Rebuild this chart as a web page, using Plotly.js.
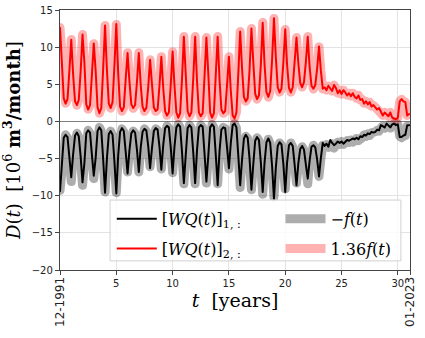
<!DOCTYPE html>
<html>
<head>
<meta charset="utf-8">
<script src="https://cdn.plot.ly/plotly-3.0.1.min.js"></script>
<style>
  html, body { margin: 0; padding: 0; background: #fff; }
  #plot { width: 425px; height: 338px; }
  #plot .scatterlayer path.js-line { stroke-linejoin: round !important; stroke-linecap: round !important; }
</style>
</head>
<body>
<div id="plot"></div>
<script>
// samples every two months, starting 12-1991 (t = 0)
var stepsPerYear = 6;

// f(t) (one row per year)
var fVals = [
  9.3, 5.2, 2.3, 1.8, 2.2, 5.0,
  8.1, 4.6, 2.0, 1.6, 2.1, 4.9,
  8.6, 5.8, 1.7, 1.2, 1.6, 4.6,
  7.7, 5.0, 1.4, 0.8, 1.3, 5.2,
  9.5, 5.1, 1.8, 1.3, 1.9, 5.5,
  9.6, 4.8, 1.5, 1.0, 1.4, 4.2,
  6.8, 4.0, 1.7, 1.3, 1.6, 3.9,
  6.8, 3.6, 1.5, 1.0, 1.3, 3.4,
  6.1, 3.7, 1.4, 1.0, 1.2, 3.5,
  6.4, 3.3, 1.0, 0.6, 0.9, 3.6,
  6.9, 3.5, 0.9, 0.4, 0.8, 4.2,
  8.4, 4.6, 1.0, 0.5, 0.9, 4.3,
  8.4, 4.0, 0.9, 0.5, 0.8, 4.4,
  8.3, 4.8, 0.9, 0.4, 0.8, 4.6,
  8.4, 4.1, 1.2, 0.8, 1.0, 3.6,
  6.4, 3.0, 0.6, 0.3, 0.9, 4.7,
  8.9, 5.2, 2.4, 2.0, 2.3, 5.1,
  9.2, 5.8, 2.7, 2.2, 2.6, 5.6,
  9.8, 5.6, 2.9, 2.4, 3.0, 6.1,
  10.2, 6.3, 3.4, 2.9, 3.2, 5.8,
  9.1, 5.6, 3.3, 2.9, 3.4, 5.9,
  8.3, 5.7, 3.8, 3.4, 3.9, 5.9,
  8.4, 5.4, 3.5, 3.2, 3.6, 5.2,
  7.4, 5.0, 3.2, 3.4, 3.1, 3.5,
  3.2, 3.0, 3.6, 3.3, 2.8, 3.1,
  2.7, 3.1, 2.9, 2.6, 2.8, 2.5,
  2.8, 2.4, 2.3, 2.6, 2.1, 2.2,
  1.8, 2.0, 1.7, 1.9, 1.5, 1.6,
  1.4, 1.2, 1.3, 0.9, 0.6, 0.9,
  0.7, 0.5, 0.9, 0.4, 0.3, 0.2,
  0.4, 2.0, 2.2, 2.0, 1.9, 0.6,
  0.7
];

// [WQ(t)]_{1,:}  (black)
var wq1Vals = [
  -9.4, -5.0, -2.2, -1.8, -2.1, -4.8,
  -7.5, -4.4, -1.9, -1.5, -2.0, -4.7,
  -8.2, -5.6, -1.6, -1.2, -1.5, -4.5,
  -7.3, -4.9, -1.3, -0.8, -1.2, -5.1,
  -9.6, -5.0, -1.7, -1.3, -1.8, -5.4,
  -9.7, -4.6, -1.4, -0.9, -1.3, -4.1,
  -7.0, -3.9, -1.6, -1.2, -1.5, -3.8,
  -6.8, -3.5, -1.4, -1.0, -1.2, -3.3,
  -6.3, -3.6, -1.3, -0.9, -1.1, -3.4,
  -6.5, -3.2, -0.9, -0.6, -0.8, -3.5,
  -7.0, -3.4, -0.8, -0.4, -0.7, -4.1,
  -8.3, -4.5, -0.9, -0.5, -0.8, -4.2,
  -8.3, -3.9, -0.8, -0.5, -0.7, -4.3,
  -8.1, -4.7, -0.8, -0.4, -0.7, -4.5,
  -8.6, -4.0, -1.1, -0.8, -0.9, -3.5,
  -6.3, -2.9, -0.5, -0.3, -0.8, -4.6,
  -8.6, -5.1, -2.3, -1.8, -2.2, -5.0,
  -9.2, -5.7, -2.6, -2.1, -2.5, -5.5,
  -9.5, -5.5, -2.8, -2.3, -2.9, -6.0,
  -10.4, -6.2, -3.3, -2.8, -3.1, -5.7,
  -9.5, -5.5, -3.2, -2.9, -3.3, -5.8,
  -8.6, -5.6, -3.7, -3.3, -3.8, -5.8,
  -7.7, -5.3, -3.4, -3.2, -3.5, -5.1,
  -7.4, -4.9, -2.9, -3.3, -3.0, -3.4,
  -2.5, -2.9, -3.2, -3.0, -2.7, -2.9,
  -2.7, -3.0, -2.8, -2.5, -2.6, -2.4,
  -2.3, -2.4, -2.2, -2.4, -2.0, -2.1,
  -1.8, -1.9, -1.6, -1.7, -1.4, -1.5,
  -1.4, -1.1, -1.2, -0.5, -0.6, -0.8,
  -0.3, -0.5, -0.8, -0.4, -0.3, -0.5,
  -0.4, -2.1, -2.1, -1.9, -1.8, -0.5,
  -0.5
];

// [WQ(t)]_{2,:}  (red)
var wq2Vals = [
  12.6, 7.1, 3.1, 2.4, 3.0, 6.8,
  11.0, 6.3, 2.7, 2.2, 2.9, 6.7,
  11.7, 7.9, 2.3, 1.6, 2.2, 6.3,
  10.5, 6.8, 1.9, 1.1, 1.8, 7.1,
  12.9, 6.9, 2.4, 1.8, 2.6, 7.5,
  13.1, 6.5, 2.0, 1.4, 1.9, 5.7,
  9.2, 5.4, 2.3, 1.8, 2.2, 5.3,
  9.2, 4.9, 2.0, 1.4, 1.8, 4.6,
  8.3, 5.0, 1.9, 1.4, 1.6, 4.8,
  8.7, 4.5, 1.4, 0.8, 1.2, 4.9,
  9.4, 4.8, 1.2, 0.5, 1.1, 5.7,
  11.4, 6.3, 1.4, 0.7, 1.2, 5.8,
  11.4, 5.4, 1.2, 0.7, 1.1, 6.0,
  11.3, 6.5, 1.2, 0.5, 1.1, 6.3,
  11.4, 5.6, 1.6, 1.1, 1.4, 4.9,
  8.7, 4.1, 0.8, 0.4, 1.2, 6.4,
  12.1, 7.1, 3.3, 2.7, 3.1, 6.9,
  12.5, 7.9, 3.7, 3.0, 3.5, 7.6,
  13.3, 7.6, 3.9, 3.3, 4.1, 8.3,
  13.9, 8.6, 4.6, 3.9, 4.4, 7.9,
  12.4, 7.6, 4.5, 3.9, 4.6, 8.0,
  11.3, 7.8, 5.2, 4.6, 5.3, 8.0,
  11.4, 7.3, 4.8, 4.4, 4.9, 7.1,
  10.1, 6.8, 4.4, 4.6, 4.2, 4.8,
  4.4, 4.1, 4.9, 4.5, 3.8, 4.2,
  3.7, 4.2, 3.9, 3.5, 3.8, 3.4,
  3.8, 3.3, 3.1, 3.5, 2.9, 3.0,
  2.4, 2.7, 2.3, 2.6, 2.0, 2.2,
  1.9, 1.6, 1.8, 1.2, 0.8, 1.2,
  1.0, 0.7, 1.2, 0.5, 0.4, 0.3,
  0.5, 2.7, 3.0, 2.7, 2.6, 0.8,
  1.0
];

var xTickVals = [0, 5, 10, 15, 20, 25, 30, 31.08];
var xTickText = ['', '5', '10', '15', '20', '25', '30', ''];
var dateLabels = ['12-1991', '01-2023'];

var t = [];
for (var i = 0; i < fVals.length; i++) {
  t.push(i / stepsPerYear);
}

var negF = fVals.map(function (v) { return -v; });
var scaledF = fVals.map(function (v) { return 1.36 * v; });

var serif = 'DejaVu Serif, Liberation Serif, serif';

var bandGrey = {
  x: t, y: negF, mode: 'lines', name: '\u2212<i>f</i>(<i>t</i>)',
  line: {color: 'rgba(0,0,0,0.32)', width: 9},
  legend: 'legend2', legendgroup: 'g3', legendrank: 1, hoverinfo: 'skip'
};
var bandPink = {
  x: t, y: scaledF, mode: 'lines', name: '1.36<i>f</i>(<i>t</i>)',
  line: {color: 'rgba(255,0,0,0.3)', width: 9},
  legend: 'legend2', legendgroup: 'g4', legendrank: 2, hoverinfo: 'skip'
};
var line1 = {
  x: t, y: wq1Vals, mode: 'lines', name: '[<i>WQ</i>(<i>t</i>)]<sub>1, :</sub>',
  line: {color: '#000000', width: 2},
  legend: 'legend', legendgroup: 'g1', legendrank: 1
};
var line2 = {
  x: t, y: wq2Vals, mode: 'lines', name: '[<i>WQ</i>(<i>t</i>)]<sub>2, :</sub>',
  line: {color: '#ff0000', width: 2},
  legend: 'legend', legendgroup: 'g2', legendrank: 2
};

var data = [bandGrey, bandPink, line1, line2];

var legendBase = {
  xanchor: 'left', yanchor: 'top',
  bgcolor: 'rgba(0,0,0,0)',
  borderwidth: 0,
  tracegroupgap: 6,
  itemwidth: 40,
  font: {family: serif, size: 16, color: '#000'}
};

var layout = {
  width: 425,
  height: 338,
  margin: {l: 60, r: 15, t: 10, b: 68},
  paper_bgcolor: '#ffffff',
  plot_bgcolor: '#ffffff',
  font: {family: 'DejaVu Sans, sans-serif', size: 10, color: '#222'},
  showlegend: true,
  legend: Object.assign({x: 0.148, y: 0.262}, legendBase),
  legend2: Object.assign({x: 0.63, y: 0.262}, legendBase),
  shapes: [{
    type: 'rect', xref: 'paper', yref: 'paper',
    x0: 0.143, x1: 0.974, y0: 0.035, y1: 0.269,
    fillcolor: 'rgba(255,255,255,0.8)',
    line: {color: '#d0d0d0', width: 1},
    layer: 'above'
  }],
  xaxis: {
    range: [0, 31.08],
    tickvals: xTickVals,
    ticktext: xTickText,
    ticks: 'outside', ticklen: 4, tickcolor: '#444',
    showline: true, linecolor: '#444', linewidth: 1.2, mirror: true,
    showgrid: true, gridcolor: '#e3e3e3', gridwidth: 1,
    zeroline: false,
    tickfont: {size: 10},
    title: {
      text: '<i>t</i>  [years]',
      font: {family: serif, size: 19, color: '#000'},
      standoff: 4
    }
  },
  yaxis: {
    range: [-20, 15],
    tickvals: [-20, -15, -10, -5, 0, 5, 10, 15],
    ticks: 'outside', ticklen: 4, tickcolor: '#444',
    showline: true, linecolor: '#444', linewidth: 1.2, mirror: true,
    showgrid: true, gridcolor: '#e3e3e3', gridwidth: 1,
    zeroline: true, zerolinecolor: '#808080', zerolinewidth: 1,
    tickfont: {size: 10},
    title: {
      text: '<i>D</i>(<i>t</i>)  [10<sup>6</sup> <b>m<sup>3</sup>/month</b>]',
      font: {family: serif, size: 18, color: '#000'},
      standoff: 6
    }
  },
  annotations: [
    {
      x: 0, y: 0, xref: 'x', yref: 'paper',
      text: dateLabels[0], textangle: -90, showarrow: false,
      xanchor: 'center', yanchor: 'top', yshift: -5,
      font: {family: 'DejaVu Sans, sans-serif', size: 12, color: '#222'}
    },
    {
      x: 31.08, y: 0, xref: 'x', yref: 'paper',
      text: dateLabels[1], textangle: -90, showarrow: false,
      xanchor: 'center', yanchor: 'top', yshift: -5,
      font: {family: 'DejaVu Sans, sans-serif', size: 12, color: '#222'}
    }
  ]
};

Plotly.newPlot('plot', data, layout, {displayModeBar: false, staticPlot: true});
</script>
</body>
</html>
